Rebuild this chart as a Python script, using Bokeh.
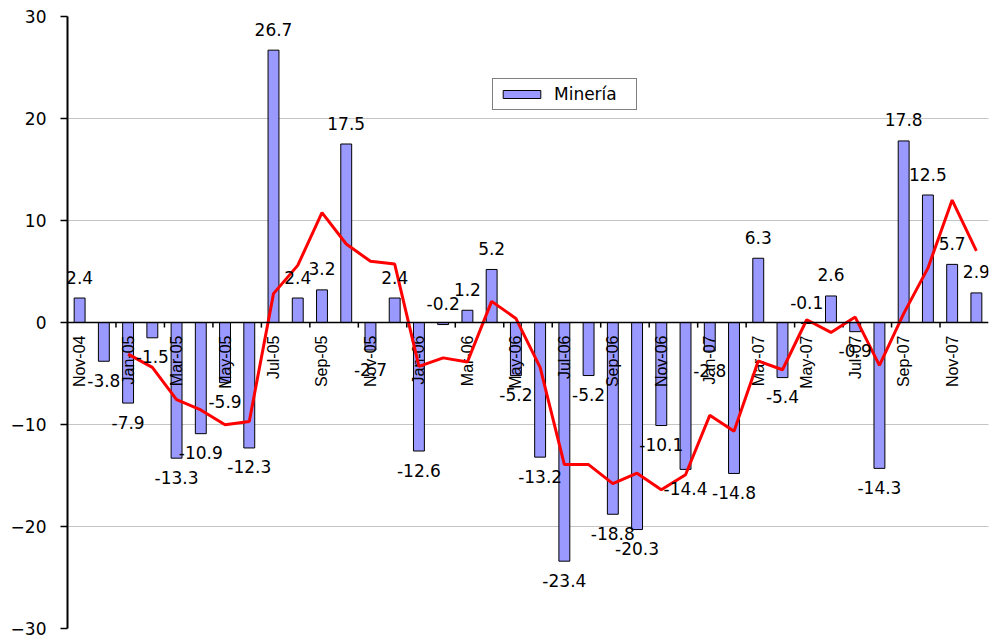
import numpy as np
from bokeh.plotting import figure
from bokeh.models import ColumnDataSource, FixedTicker, Span, Legend, LegendItem, Range1d
from bokeh.core.properties import value
from bokeh.embed import file_html
from bokeh.resources import INLINE

# ---- data ----
months = ["Nov-04", "Dec-04",
          "Jan-05", "Feb-05", "Mar-05", "Apr-05", "May-05", "Jun-05",
          "Jul-05", "Aug-05", "Sep-05", "Oct-05", "Nov-05", "Dec-05",
          "Jan-06", "Feb-06", "Mar-06", "Apr-06", "May-06", "Jun-06",
          "Jul-06", "Aug-06", "Sep-06", "Oct-06", "Nov-06", "Dec-06",
          "Jan-07", "Feb-07", "Mar-07", "Apr-07", "May-07", "Jun-07",
          "Jul-07", "Aug-07", "Sep-07", "Oct-07", "Nov-07", "Dec-07"]
mineria = [2.4, -3.8,
           -7.9, -1.5, -13.3, -10.9, -5.9, -12.3,
           26.7, 2.4, 3.2, 17.5, -2.7, 2.4,
           -12.6, -0.2, 1.2, 5.2, -5.2, -13.2,
           -23.4, -5.2, -18.8, -20.3, -10.1, -14.4,
           -2.8, -14.8, 6.3, -5.4, -0.1, 2.6,
           -0.9, -14.3, 17.8, 12.5, 5.7, 2.9]
# red trend line (starts at Jan-05)
trend_months = months[2:]
trend = [-3.1, -4.4, -7.57, -8.57, -10.03, -9.7,
         2.83, 5.6, 10.77, 7.7, 6.0, 5.73,
         -4.3, -3.47, -3.87, 2.07, 0.4, -4.4,
         -13.93, -13.93, -15.8, -14.77, -16.4, -14.93,
         -9.1, -10.67, -3.77, -4.63, 0.27, -0.97,
         0.53, -4.2, 0.87, 5.33, 12.0, 7.03]
tick_labels = months[::2]
y_ticks = [-30, -20, -10, 0, 10, 20, 30]

idx = {m: i for i, m in enumerate(months)}
xs = [idx[m] for m in months]

p = figure(width=992, height=638, output_backend="svg", toolbar_location=None,
           x_range=Range1d(-0.5, len(months) - 0.5), y_range=Range1d(-30, 30),
           x_axis_location=None, min_border_left=67, min_border_right=4,
           min_border_top=16, min_border_bottom=10)
p.outline_line_color = None
p.background_fill_color = "white"
p.xgrid.visible = False
p.ygrid.ticker = FixedTicker(ticks=y_ticks)
p.ygrid.grid_line_color = "#8a8a8a"
p.ygrid.grid_line_dash = "1 1"
p.ygrid.grid_line_width = 1

ax = p.yaxis[0]
ax.ticker = FixedTicker(ticks=y_ticks)
ax.axis_line_color = "black"
ax.axis_line_width = 2
ax.major_tick_line_color = "black"
ax.major_tick_line_width = 1.5
ax.major_tick_out = 7
ax.major_tick_in = 0
ax.minor_tick_line_color = None
ax.major_label_text_font = "DejaVu Sans"
ax.major_label_text_font_size = "17px"
ax.major_label_text_color = "black"
ax.major_label_standoff = 14

src = ColumnDataSource(dict(x=xs, v=mineria))
bars = p.vbar(x="x", top="v", bottom=0, width=0.45, source=src,
              fill_color="#9999FF", line_color="black", line_width=1)

# zero axis line and small ticks between category pairs
p.add_layout(Span(location=0, dimension="width", line_color="black", line_width=1.5))
bx = [i + 1.5 for i in range(0, len(months) - 2, 2)]
p.segment(x0=bx, y0=[0] * len(bx), x1=bx, y1=[-0.5] * len(bx),
          line_color="black", line_width=1.5)

# month labels hanging below the zero line
tx = [idx[m] for m in tick_labels]
p.text(x=tx, y=[0] * len(tx), text=tick_labels, angle=np.pi / 2,
       text_align="right", text_baseline="middle", y_offset=13,
       text_font=value("Liberation Sans"), text_font_size="16px", text_color="black")

# trend line
p.line(x=[idx[m] for m in trend_months], y=trend, line_color="#FF0000", line_width=3)

# data labels
up = [i for i, v in enumerate(mineria) if v > -0.5]
dn = [i for i, v in enumerate(mineria) if v <= -0.5]
for sel, off in ((up, -21), (dn, 19)):
    p.text(x=[xs[i] for i in sel], y=[mineria[i] for i in sel],
           text=[f"{mineria[i]:.1f}" for i in sel],
           text_align="center", text_baseline="middle", y_offset=off,
           text_font=value("DejaVu Sans"), text_font_size="17px", text_color="black")

legend = Legend(items=[LegendItem(label="Minería", renderers=[bars])],
                location=(425, 518), margin=0, padding=5,
                glyph_width=47, glyph_height=10, label_height=10, label_width=77,
                label_standoff=9, label_text_color="black",
                label_text_font="DejaVu Sans", label_text_font_size="17px",
                border_line_color="black", border_line_width=1.5,
                background_fill_color="white", background_fill_alpha=1.0)
p.add_layout(legend)

open("out.html", "w").write(file_html(p, INLINE))
